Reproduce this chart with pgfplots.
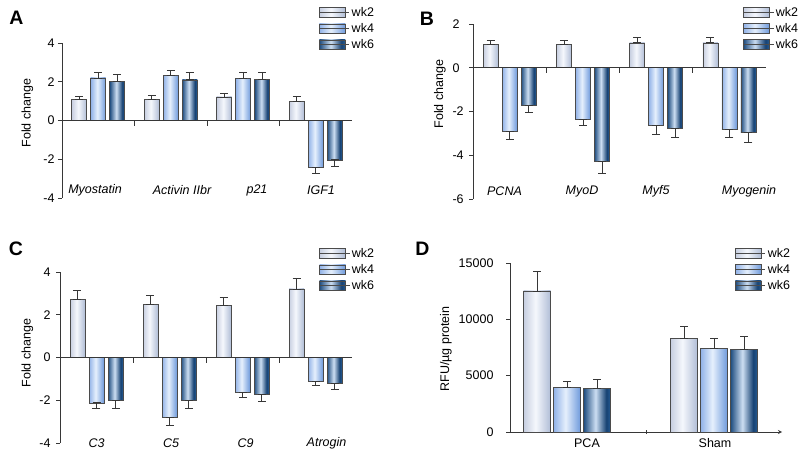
\documentclass[border=0pt]{standalone}
\usepackage{pgfplots}
\pgfplotsset{compat=1.18}
\usepackage{pgfplotstable}
\usepackage{fontspec}
\setmainfont{Liberation Sans}
\newcommand{\fnt}{\fontsize{12.5}{14}\selectfont}
\newcommand{\lfnt}{\fontsize{19.5}{22}\selectfont\bfseries}
\definecolor{axc}{RGB}{55,55,55}
\definecolor{brd}{RGB}{75,75,75}
\pgfdeclarehorizontalshading{shII}{100bp}{rgb(0bp)=(0.78,0.81,0.88); rgb(25bp)=(0.78,0.81,0.88); rgb(47bp)=(0.96,0.97,0.99); rgb(75bp)=(0.69,0.74,0.84); rgb(100bp)=(0.69,0.74,0.84)}
\pgfdeclarehorizontalshading{shIV}{100bp}{rgb(0bp)=(0.57,0.70,0.91); rgb(25bp)=(0.57,0.70,0.91); rgb(47bp)=(0.90,0.94,0.99); rgb(75bp)=(0.43,0.60,0.86); rgb(100bp)=(0.43,0.60,0.86)}
\pgfdeclarehorizontalshading{shVI}{100bp}{rgb(0bp)=(0.12,0.30,0.50); rgb(25bp)=(0.12,0.30,0.50); rgb(47bp)=(0.80,0.87,0.95); rgb(67bp)=(0.09,0.26,0.45); rgb(75bp)=(0.15,0.36,0.58); rgb(100bp)=(0.15,0.36,0.58)}

\pgfplotstableread{
x a ap am b bp bm c cp cm
0 1.09 0.18 0 2.20 0.30 0 2.00 0.38 0
1 1.10 0.20 0 2.31 0.26 0 2.10 0.37 0
2 1.22 0.19 0 2.19 0.31 0 2.11 0.39 0
3 1.00 0.23 0 -2.43 0 0.30 -2.03 0 0.35
}\Atab
\pgfplotstableread{
x a ap am b bp bm c cp cm
0 1.06 0.20 0 -2.92 0 0.36 -1.71 0 0.34
1 1.06 0.20 0 -2.35 0 0.28 -4.28 0 0.54
2 1.14 0.23 0 -2.63 0 0.42 -2.75 0 0.42
3 1.14 0.23 0 -2.83 0 0.34 -2.94 0 0.49
}\Btab
\pgfplotstableread{
x a ap am b bp bm c cp cm
0 2.71 0.42 0 -2.12 0 0.28 -2.02 0 0.38
1 2.50 0.40 0 -2.82 0 0.36 -2.02 0 0.38
2 2.42 0.39 0 -1.61 0 0.27 -1.71 0 0.35
3 3.21 0.48 0 -1.10 0 0.22 -1.21 0 0.26
}\Ctab
\pgfplotstableread{
x a ap am b bp bm c cp cm
-0.08 12515 1715 0 3935 592 0 3876 769 0
1.0 8284 1124 0 7426 888 0 7308 1153 0
}\Dtab

\pgfplotsset{
  panel/.style={scale only axis, anchor=south west,
    axis y line=left, axis line style={-, axc, line width=0.8pt},
    tick style={axc, line width=0.8pt}, tick align=outside, major tick length=4pt,
    clip=false, tick label style={font=\fnt},
    legend style={draw=none, fill=none, font=\fnt, anchor=north west, inner sep=0pt, row sep=1.5pt, cells={anchor=west}},
    legend image code/.code={\draw[##1] (0pt,-4.75pt) rectangle (26pt,4.75pt); \path (0pt,0pt) -- (30pt,0pt);}},
  fcpanel/.style={panel, axis x line=none, bar width=15pt, xmin=-0.5, xmax=3.5},
  s2/.style={draw=brd, line width=0.6pt, shade, shading=shII},
  s4/.style={draw=brd, line width=0.6pt, shade, shading=shIV},
  s6/.style={draw=brd, line width=0.6pt, shade, shading=shVI},
  eb/.style={draw=none, mark=none, forget plot,
    error bars/y dir=both, error bars/y explicit, error bars/error mark=-,
    error bars/error bar style={draw=axc, line width=0.7pt, solid},
    error bars/error mark options={draw=axc, line width=0.7pt, mark size=4pt, rotate=90}},
}
% one bar per \addplot so each bar gets its own shading
\newcommand{\grp}[4]{%
  \addplot[s2, ybar, bar shift=-#4, forget plot, restrict x to domain=#2:#3] table[x=x, y=a] {#1};
  \addplot[s4, ybar, bar shift=0pt, forget plot, restrict x to domain=#2:#3] table[x=x, y=b] {#1};
  \addplot[s6, ybar, bar shift=#4, forget plot, restrict x to domain=#2:#3] table[x=x, y=c] {#1};
}
% error bars, one plot per series; #2 = bar shift in axis units
\newcommand{\errs}[2]{%
  \addplot[eb] table[x expr=\thisrow{x}-#2, y=a, y error plus=ap, y error minus=am] {#1};
  \addplot[eb] table[x=x, y=b, y error plus=bp, y error minus=bm] {#1};
  \addplot[eb] table[x expr=\thisrow{x}+#2, y=c, y error plus=cp, y error minus=cm] {#1};
}
\newcommand{\leg}{%
  \addlegendimage{s2}\addlegendentry{wk2}
  \addlegendimage{s4}\addlegendentry{wk4}
  \addlegendimage{s6}\addlegendentry{wk6}
}
\newcommand{\zeroline}{%
  \draw[axc, line width=0.8pt] (axis cs:-0.5,0) -- (axis cs:3.5,0);
  \pgfplotsinvokeforeach{0.5,1.5,2.5}{\draw[axc, line width=0.8pt] (axis cs:##1,0) -- ++(0pt,-5pt);}
}

\begin{document}
\begin{tikzpicture}
\path[use as bounding box] (0pt,0pt) rectangle (800pt,-462pt);

% Panel A
\begin{axis}[fcpanel, at={(62pt,-198pt)}, width=290pt, height=155pt,
  ymin=-4, ymax=4, ytick={-4,-2,0,2,4}, yticklabels={-4,-2,0,2,4},
  legend style={at={(0.886,1.245)}}]
\leg
\grp{\Atab}{-0.2}{0.2}{19pt}
\grp{\Atab}{0.8}{1.2}{19pt}
\grp{\Atab}{1.8}{2.2}{19pt}
\grp{\Atab}{2.8}{3.2}{19pt}
\errs{\Atab}{0.262}
\zeroline
\end{axis}

% Panel B
\begin{axis}[fcpanel, at={(473pt,-199pt)}, width=293pt, height=175pt,
  ymin=-6, ymax=2, ytick={-6,-4,-2,0,2}, yticklabels={-6,-4,-2,0,2},
  yticklabel style={anchor=west, xshift=-20pt},
  legend style={at={(0.9215,1.109)}}]
\leg
\grp{\Btab}{-0.2}{0.2}{19pt}
\grp{\Btab}{0.8}{1.2}{19pt}
\grp{\Btab}{1.8}{2.2}{19pt}
\grp{\Btab}{2.8}{3.2}{19pt}
\errs{\Btab}{0.2594}
\zeroline
\end{axis}

% Panel C
\begin{axis}[fcpanel, at={(60pt,-443pt)}, width=292pt, height=171pt,
  ymin=-4, ymax=4, ytick={-4,-2,0,2,4}, yticklabels={-4,-2,0,2,4},
  yticklabel style={xshift=-2pt},
  legend style={at={(0.887,1.152)}}]
\leg
\grp{\Ctab}{-0.2}{0.2}{19pt}
\grp{\Ctab}{0.8}{1.2}{19pt}
\grp{\Ctab}{1.8}{2.2}{19pt}
\grp{\Ctab}{2.8}{3.2}{19pt}
\errs{\Ctab}{0.2603}
\zeroline
\end{axis}

% Panel D
\begin{axis}[panel, at={(510pt,-432pt)}, width=272pt, height=169pt,
  axis x line=bottom, xmin=-0.5, xmax=1.5, xtick={0.5}, xticklabels={},
  bar width=27pt,
  ymin=0, ymax=15000, ytick={0,5000,10000,15000}, yticklabels={0,5000,10000,15000},
  scaled y ticks=false, yticklabel style={xshift=-9pt},
  legend style={at={(0.827,1.1006)}}]
\leg
\grp{\Dtab}{-0.3}{0.3}{30pt}
\grp{\Dtab}{0.8}{1.2}{30pt}
\errs{\Dtab}{0.2206}
\end{axis}

% panel letters
\node[font=\lfnt] at (16.5pt,-18pt) {A};
\node[font=\lfnt] at (427pt,-19pt) {B};
\node[font=\lfnt] at (16pt,-249pt) {C};
\node[font=\lfnt] at (422.5pt,-249pt) {D};

% y labels
\node[font=\fnt, rotate=90] at (27.5pt,-113pt) {Fold change};
\node[font=\fnt, rotate=90] at (440pt,-94pt) {Fold change};
\node[font=\fnt, rotate=90] at (27.5pt,-353pt) {Fold change};
\node[font=\fnt, rotate=90] at (446pt,-349pt) {RFU/µg protein};

% category labels
\begin{scope}[every node/.style={font=\fnt\itshape}]
\node at (95pt,-190pt) {Myostatin};
\node at (182pt,-190pt) {Activin IIbr};
\node at (257pt,-190pt) {p21};
\node at (321pt,-190pt) {IGF1};
\node at (504.5pt,-191pt) {PCNA};
\node at (582pt,-191pt) {MyoD};
\node at (656pt,-191pt) {Myf5};
\node at (749pt,-191pt) {Myogenin};
\node at (96.5pt,-443pt) {C3};
\node at (171pt,-443pt) {C5};
\node at (245.5pt,-443pt) {C9};
\node at (326.5pt,-443pt) {Atrogin};
\end{scope}
\node[font=\fnt] at (587pt,-443pt) {PCA};
\node[font=\fnt] at (715pt,-443pt) {Sham};
\end{tikzpicture}
\end{document}
